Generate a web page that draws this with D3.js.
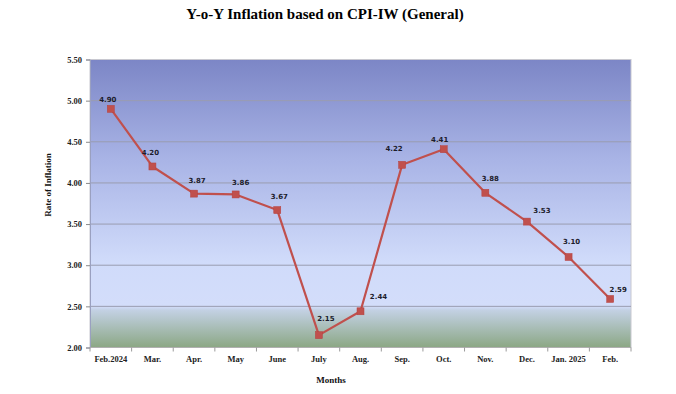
<!DOCTYPE html>
<html>
<head>
<meta charset="utf-8">
<script src="https://cdn.jsdelivr.net/npm/d3@7"></script>
<style>
  body { margin: 0; background: #fff; }
  svg { display: block; }
</style>
</head>
<body>
<div id="chart"></div>
<script>
// chart data
const months = ["Feb.2024", "Mar.", "Apr.", "May", "June", "July", "Aug.",
                "Sep.", "Oct.", "Nov.", "Dec.", "Jan. 2025", "Feb."];
const inflation = [4.90, 4.20, 3.87, 3.86, 3.67, 2.15, 2.44, 4.22, 4.41, 3.88, 3.53, 3.10, 2.59];
const yTicks = [2.00, 2.50, 3.00, 3.50, 4.00, 4.50, 5.00, 5.50];

const width = 676, height = 394;
const margin = {top: 59.5, right: 45, bottom: 46.5, left: 90};

// hand-placed label nudges, like the original sheet
const labelNudge = [[-3, -9], [-2, -14], [3, -13], [5, -12], [2, -14], [7, -17], [18, -15],
                    [-8, -16], [-4, -10], [5, -14], [15, -11], [3, -15], [8, -9]];

let svg = d3.select("#chart")
  .append("svg")
  .attr("width", width)
  .attr("height", height);

let x = d3.scaleBand()
  .domain(months)
  .range([margin.left, width - margin.right]);

let y = d3.scaleLinear()
  .domain([2, 5.5])
  .range([height - margin.bottom, margin.top]);

// background gradient
let defs = svg.append("defs");
let grad = defs.append("linearGradient")
  .attr("id", "bg")
  .attr("x1", 0).attr("y1", 0)
  .attr("x2", 0).attr("y2", 1);
[[0, "#7c86c6"], [0.35, "#a9b4e6"], [0.7, "#d0dbfa"], [0.857, "#d3ddfa"],
 [0.87, "#c3d1e4"], [1, "#8ba784"]].forEach(s => {
  grad.append("stop").attr("offset", s[0]).attr("stop-color", s[1]);
});

svg.append("rect")
  .attr("x", margin.left)
  .attr("y", margin.top)
  .attr("width", width - margin.left - margin.right)
  .attr("height", height - margin.top - margin.bottom)
  .attr("fill", "url(#bg)")
  .attr("stroke", "#c8c8d0")
  .attr("stroke-width", 1);

// gridlines
svg.append("g")
  .selectAll("line")
  .data(yTicks.slice(1, -1))
  .enter()
  .append("line")
    .attr("x1", margin.left)
    .attr("x2", width - margin.right)
    .attr("y1", d => y(d))
    .attr("y2", d => y(d))
    .attr("stroke", "#9a9cb0")
    .attr("stroke-width", 1);

// y axis
let yAxis = svg.append("g")
  .attr("transform", `translate(${margin.left},0)`)
  .call(d3.axisLeft(y).tickValues(yTicks).tickFormat(d3.format(".2f")).tickSize(4).tickPadding(4));
yAxis.select(".domain").attr("stroke", "#9aa0c0");
yAxis.selectAll(".tick line").attr("stroke", "#8a8a8a");
yAxis.selectAll("text")
  .attr("font-family", "'Liberation Serif', 'Times New Roman', serif")
  .attr("font-weight", "bold")
  .attr("font-size", "8.5px")
  .attr("fill", "#222");

// x axis: ticks between categories
let xAxis = svg.append("g")
  .attr("transform", `translate(0,${height - margin.bottom})`);
xAxis.append("line")
  .attr("x1", margin.left)
  .attr("x2", width - margin.right)
  .attr("stroke", "#b0b0b0");
xAxis.selectAll(".xtick")
  .data(months.concat(["end"]))
  .enter()
  .append("line")
    .attr("x1", (d, i) => margin.left + i * x.step())
    .attr("x2", (d, i) => margin.left + i * x.step())
    .attr("y1", 0)
    .attr("y2", 4)
    .attr("stroke", "#9a9a9a");
xAxis.selectAll("text")
  .data(months)
  .enter()
  .append("text")
    .attr("x", d => x(d) + x.bandwidth() / 2)
    .attr("y", 14)
    .attr("text-anchor", "middle")
    .attr("font-family", "'Liberation Serif', 'Times New Roman', serif")
    .attr("font-weight", "bold")
    .attr("font-size", "8.5px")
    .attr("fill", "#222")
    .text(d => d);

// line + markers
let pts = months.map((m, i) => ({m: m, v: inflation[i], i: i}));
let line = d3.line()
  .x(d => x(d.m) + x.bandwidth() / 2)
  .y(d => y(d.v));

svg.append("path")
  .datum(pts)
  .attr("d", line)
  .attr("fill", "none")
  .attr("stroke", "#c0504d")
  .attr("stroke-width", 2.2)
  .attr("stroke-linejoin", "round");

svg.append("g")
  .selectAll("rect")
  .data(pts)
  .enter()
  .append("rect")
    .attr("x", d => x(d.m) + x.bandwidth() / 2 - 3.5)
    .attr("y", d => y(d.v) - 3.5)
    .attr("width", 7)
    .attr("height", 7)
    .attr("fill", "#c0504d")
    .attr("stroke", "#b5413e")
    .attr("stroke-width", 0.5);

svg.append("g")
  .selectAll("text")
  .data(pts)
  .enter()
  .append("text")
    .attr("x", d => x(d.m) + x.bandwidth() / 2 + labelNudge[d.i][0])
    .attr("y", d => y(d.v) + labelNudge[d.i][1])
    .attr("dy", "0.35em")
    .attr("text-anchor", "middle")
    .attr("font-family", "'DejaVu Sans', Verdana, sans-serif")
    .attr("font-weight", "bold")
    .attr("font-size", "7px")
    .attr("fill", "#1c1c2c")
    .text(d => d3.format(".2f")(d.v));

// titles
svg.append("text")
  .attr("x", 325)
  .attr("y", 19)
  .attr("text-anchor", "middle")
  .attr("font-family", "'Liberation Serif', 'Times New Roman', serif")
  .attr("font-weight", "bold")
  .attr("font-size", "15px")
  .attr("fill", "#000")
  .text("Y-o-Y Inflation based on CPI-IW (General)");

svg.append("text")
  .attr("x", 331)
  .attr("y", 383)
  .attr("text-anchor", "middle")
  .attr("font-family", "'Liberation Serif', 'Times New Roman', serif")
  .attr("font-weight", "bold")
  .attr("font-size", "9px")
  .attr("fill", "#111")
  .text("Months");

svg.append("text")
  .attr("transform", "translate(51,185) rotate(-90)")
  .attr("text-anchor", "middle")
  .attr("font-family", "'Liberation Serif', 'Times New Roman', serif")
  .attr("font-weight", "bold")
  .attr("font-size", "9px")
  .attr("fill", "#111")
  .text("Rate of Inflation");
</script>
</body>
</html>
